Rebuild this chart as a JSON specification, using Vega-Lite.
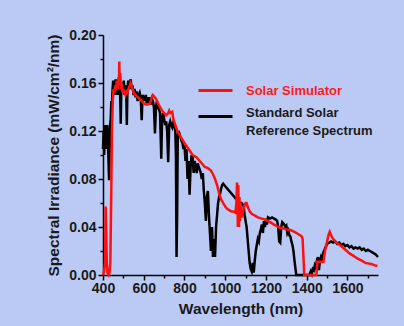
{
  "$schema": "https://vega.github.io/schema/vega-lite/v6.json",
  "width": 275,
  "height": 240,
  "autosize": {"type": "none"},
  "padding": {"left": 103, "top": 35, "right": 26, "bottom": 51},
  "background": "#BACAF5",
  "config": {
    "view": {"stroke": null, "fill": "#BACAF5"},
    "font": "Liberation Sans",
    "axis": {
      "labelFont": "Liberation Sans", "labelFontWeight": "bold", "labelFontSize": 14, "labelColor": "#1a1a1a",
      "titleFont": "Liberation Sans", "titleFontWeight": "bold", "titleFontSize": 15.5, "titleColor": "#1a1a1a",
      "domainColor": "#000000", "domainWidth": 1.5, "tickColor": "#000000", "tickWidth": 1.5, "grid": false
    }
  },
  "datasets": {
    "ref": [
      {"x":400,"y":0.105},{"x":403,"y":0.12},{"x":406,"y":0.10},{"x":409,"y":0.125},{"x":412,"y":0.11},{"x":415,"y":0.12},{"x":418,"y":0.105},{"x":421,"y":0.125},{"x":424,"y":0.115},{"x":427,"y":0.095},{"x":430,"y":0.079},{"x":432,"y":0.10},{"x":435,"y":0.125},{"x":438,"y":0.13},{"x":441,"y":0.145},{"x":444,"y":0.14},{"x":447,"y":0.155},{"x":450,"y":0.162},{"x":453,"y":0.15},{"x":456,"y":0.16},{"x":459,"y":0.155},{"x":462,"y":0.163},{"x":465,"y":0.15},{"x":468,"y":0.16},{"x":471,"y":0.155},{"x":474,"y":0.158},{"x":477,"y":0.15},{"x":480,"y":0.16},{"x":484,"y":0.152},{"x":487,"y":0.126},{"x":490,"y":0.155},{"x":494,"y":0.16},{"x":498,"y":0.155},{"x":502,"y":0.162},{"x":506,"y":0.15},{"x":510,"y":0.158},{"x":514,"y":0.155},{"x":517,"y":0.125},{"x":520,"y":0.155},{"x":524,"y":0.162},{"x":528,"y":0.155},{"x":532,"y":0.16},{"x":536,"y":0.163},{"x":540,"y":0.155},{"x":545,"y":0.158},{"x":550,"y":0.15},{"x":555,"y":0.155},{"x":560,"y":0.148},{"x":565,"y":0.153},{"x":570,"y":0.145},{"x":575,"y":0.15},{"x":580,"y":0.152},{"x":585,"y":0.148},{"x":590,"y":0.129},{"x":594,"y":0.15},{"x":600,"y":0.148},{"x":605,"y":0.145},{"x":610,"y":0.15},{"x":615,"y":0.143},{"x":620,"y":0.148},{"x":625,"y":0.145},{"x":630,"y":0.148},{"x":635,"y":0.142},{"x":640,"y":0.147},{"x":645,"y":0.145},{"x":650,"y":0.14},{"x":655,"y":0.118},{"x":660,"y":0.14},{"x":665,"y":0.145},{"x":670,"y":0.14},{"x":675,"y":0.138},{"x":680,"y":0.135},{"x":686,"y":0.097},{"x":690,"y":0.13},{"x":695,"y":0.135},{"x":700,"y":0.13},{"x":705,"y":0.125},{"x":710,"y":0.128},{"x":715,"y":0.12},{"x":720,"y":0.094},{"x":725,"y":0.125},{"x":730,"y":0.128},{"x":735,"y":0.125},{"x":740,"y":0.123},{"x":745,"y":0.127},{"x":750,"y":0.125},{"x":755,"y":0.12},{"x":758,"y":0.10},{"x":761,"y":0.015},{"x":764,"y":0.05},{"x":767,"y":0.115},{"x":770,"y":0.12},{"x":775,"y":0.118},{"x":780,"y":0.115},{"x":785,"y":0.112},{"x":790,"y":0.11},{"x":795,"y":0.105},{"x":800,"y":0.108},{"x":805,"y":0.095},{"x":810,"y":0.105},{"x":815,"y":0.08},{"x":820,"y":0.095},{"x":825,"y":0.067},{"x":830,"y":0.09},{"x":835,"y":0.1},{"x":840,"y":0.098},{"x":845,"y":0.085},{"x":850,"y":0.095},{"x":855,"y":0.09},{"x":860,"y":0.085},{"x":865,"y":0.093},{"x":870,"y":0.09},{"x":875,"y":0.088},{"x":880,"y":0.085},{"x":885,"y":0.08},{"x":890,"y":0.085},{"x":895,"y":0.07},{"x":900,"y":0.06},{"x":905,"y":0.045},{"x":910,"y":0.065},{"x":915,"y":0.07},{"x":920,"y":0.05},{"x":925,"y":0.035},{"x":930,"y":0.02},{"x":935,"y":0.04},{"x":940,"y":0.015},{"x":945,"y":0.03},{"x":950,"y":0.015},{"x":955,"y":0.04},{"x":960,"y":0.05},{"x":965,"y":0.06},{"x":970,"y":0.065},{"x":975,"y":0.068},{"x":980,"y":0.072},{"x":985,"y":0.075},{"x":990,"y":0.076},{"x":995,"y":0.075},{"x":1000,"y":0.074},{"x":1010,"y":0.072},{"x":1020,"y":0.07},{"x":1030,"y":0.068},{"x":1040,"y":0.066},{"x":1050,"y":0.064},{"x":1060,"y":0.062},{"x":1070,"y":0.06},{"x":1080,"y":0.06},{"x":1090,"y":0.058},{"x":1095,"y":0.05},{"x":1100,"y":0.045},{"x":1105,"y":0.04},{"x":1110,"y":0.03},{"x":1115,"y":0.02},{"x":1120,"y":0.01},{"x":1125,"y":0.005},{"x":1130,"y":0.003},{"x":1135,"y":0.01},{"x":1140,"y":0.002},{"x":1145,"y":0.012},{"x":1150,"y":0.02},{"x":1155,"y":0.025},{"x":1160,"y":0.03},{"x":1165,"y":0.028},{"x":1170,"y":0.035},{"x":1175,"y":0.038},{"x":1180,"y":0.042},{"x":1185,"y":0.035},{"x":1190,"y":0.045},{"x":1195,"y":0.04},{"x":1200,"y":0.047},{"x":1205,"y":0.042},{"x":1210,"y":0.048},{"x":1220,"y":0.047},{"x":1230,"y":0.048},{"x":1240,"y":0.047},{"x":1250,"y":0.046},{"x":1255,"y":0.045},{"x":1260,"y":0.04},{"x":1265,"y":0.028},{"x":1270,"y":0.027},{"x":1275,"y":0.04},{"x":1280,"y":0.044},{"x":1285,"y":0.043},{"x":1290,"y":0.042},{"x":1295,"y":0.04},{"x":1300,"y":0.041},{"x":1305,"y":0.035},{"x":1310,"y":0.037},{"x":1315,"y":0.033},{"x":1320,"y":0.032},{"x":1325,"y":0.028},{"x":1330,"y":0.025},{"x":1335,"y":0.02},{"x":1340,"y":0.012},{"x":1345,"y":0.005},{"x":1349,"y":0},{"x":1413,"y":0},{"x":1420,"y":0.003},{"x":1425,"y":0.001},{"x":1430,"y":0.005},{"x":1435,"y":0.004},{"x":1440,"y":0.008},{"x":1445,"y":0.006},{"x":1450,"y":0.012},{"x":1455,"y":0.015},{"x":1460,"y":0.004},{"x":1465,"y":0.012},{"x":1470,"y":0.015},{"x":1475,"y":0.013},{"x":1480,"y":0.018},{"x":1485,"y":0.02},{"x":1490,"y":0.022},{"x":1495,"y":0.024},{"x":1500,"y":0.026},{"x":1510,"y":0.027},{"x":1520,"y":0.028},{"x":1530,"y":0.027},{"x":1540,"y":0.028},{"x":1550,"y":0.026},{"x":1560,"y":0.027},{"x":1570,"y":0.025},{"x":1580,"y":0.026},{"x":1590,"y":0.024},{"x":1600,"y":0.025},{"x":1610,"y":0.023},{"x":1620,"y":0.024},{"x":1630,"y":0.022},{"x":1640,"y":0.023},{"x":1650,"y":0.022},{"x":1660,"y":0.023},{"x":1670,"y":0.021},{"x":1680,"y":0.022},{"x":1690,"y":0.02},{"x":1700,"y":0.021},{"x":1710,"y":0.02},{"x":1720,"y":0.019},{"x":1730,"y":0.018},{"x":1740,"y":0.017},{"x":1750,"y":0.015}
    ],
    "sim": [
      {"x":400,"y":0},{"x":405,"y":0.003},{"x":410,"y":0.01},{"x":413,"y":0.057},{"x":416,"y":0.035},{"x":419,"y":0.01},{"x":422,"y":0.002},{"x":428,"y":0},{"x":432,"y":0.002},{"x":436,"y":0.01},{"x":440,"y":0.06},{"x":444,"y":0.12},{"x":448,"y":0.145},{"x":452,"y":0.155},{"x":456,"y":0.152},{"x":460,"y":0.158},{"x":464,"y":0.154},{"x":468,"y":0.162},{"x":472,"y":0.155},{"x":476,"y":0.165},{"x":478,"y":0.158},{"x":480,"y":0.178},{"x":482,"y":0.16},{"x":485,"y":0.168},{"x":488,"y":0.155},{"x":492,"y":0.16},{"x":496,"y":0.152},{"x":500,"y":0.155},{"x":505,"y":0.152},{"x":510,"y":0.15},{"x":515,"y":0.153},{"x":520,"y":0.152},{"x":525,"y":0.155},{"x":530,"y":0.157},{"x":535,"y":0.16},{"x":540,"y":0.158},{"x":545,"y":0.155},{"x":550,"y":0.152},{"x":560,"y":0.15},{"x":570,"y":0.148},{"x":580,"y":0.147},{"x":590,"y":0.145},{"x":600,"y":0.143},{"x":610,"y":0.142},{"x":620,"y":0.142},{"x":630,"y":0.143},{"x":640,"y":0.148},{"x":645,"y":0.15},{"x":650,"y":0.149},{"x":660,"y":0.147},{"x":670,"y":0.143},{"x":680,"y":0.14},{"x":690,"y":0.137},{"x":700,"y":0.135},{"x":710,"y":0.133},{"x":720,"y":0.135},{"x":725,"y":0.137},{"x":730,"y":0.135},{"x":740,"y":0.136},{"x":745,"y":0.13},{"x":755,"y":0.125},{"x":765,"y":0.12},{"x":775,"y":0.117},{"x":785,"y":0.114},{"x":800,"y":0.11},{"x":820,"y":0.105},{"x":840,"y":0.1},{"x":860,"y":0.098},{"x":880,"y":0.094},{"x":900,"y":0.09},{"x":915,"y":0.089},{"x":930,"y":0.087},{"x":940,"y":0.084},{"x":950,"y":0.08},{"x":960,"y":0.075},{"x":970,"y":0.068},{"x":980,"y":0.063},{"x":990,"y":0.06},{"x":1000,"y":0.057},{"x":1010,"y":0.055},{"x":1020,"y":0.054},{"x":1030,"y":0.053},{"x":1040,"y":0.053},{"x":1050,"y":0.052},{"x":1055,"y":0.06},{"x":1058,"y":0.077},{"x":1060,"y":0.07},{"x":1062,"y":0.04},{"x":1064,"y":0.075},{"x":1066,"y":0.05},{"x":1068,"y":0.04},{"x":1070,"y":0.065},{"x":1072,"y":0.045},{"x":1075,"y":0.06},{"x":1078,"y":0.05},{"x":1082,"y":0.048},{"x":1086,"y":0.052},{"x":1090,"y":0.055},{"x":1095,"y":0.058},{"x":1100,"y":0.06},{"x":1105,"y":0.06},{"x":1110,"y":0.057},{"x":1120,"y":0.053},{"x":1130,"y":0.051},{"x":1140,"y":0.05},{"x":1150,"y":0.049},{"x":1160,"y":0.048},{"x":1180,"y":0.047},{"x":1200,"y":0.046},{"x":1220,"y":0.044},{"x":1240,"y":0.042},{"x":1260,"y":0.04},{"x":1280,"y":0.039},{"x":1300,"y":0.038},{"x":1320,"y":0.0375},{"x":1340,"y":0.036},{"x":1360,"y":0.034},{"x":1376,"y":0.032},{"x":1380,"y":0.03},{"x":1384,"y":0.015},{"x":1388,"y":0},{"x":1448,"y":0},{"x":1452,"y":0.011},{"x":1465,"y":0.011},{"x":1482,"y":0.011},{"x":1490,"y":0.02},{"x":1500,"y":0.028},{"x":1508,"y":0.034},{"x":1513,"y":0.036},{"x":1520,"y":0.033},{"x":1530,"y":0.03},{"x":1540,"y":0.028},{"x":1554,"y":0.026},{"x":1570,"y":0.024},{"x":1590,"y":0.021},{"x":1610,"y":0.018},{"x":1630,"y":0.016},{"x":1646,"y":0.014},{"x":1670,"y":0.012},{"x":1690,"y":0.01},{"x":1703,"y":0.0097},{"x":1720,"y":0.009},{"x":1735,"y":0.008},{"x":1747,"y":0.0075}
    ]
  },
  "encoding": {
    "x": {
      "field": "x", "type": "quantitative",
      "scale": {"domain": [400, 1750], "nice": false, "zero": false},
      "axis": {
        "title": "Wavelength (nm)",
        "values": [400,500,600,700,800,900,1000,1100,1200,1300,1400,1500,1600,1700],
        "labelExpr": "datum.value % 200 == 0 ? datum.label : ''",
        "format": "d",
        "tickSize": {"condition": {"test": "datum.value % 200 == 0", "value": 5}, "value": 3},
        "labelPadding": 1, "titlePadding": 6, "labelFlush": false
      }
    },
    "y": {
      "field": "y", "type": "quantitative",
      "scale": {"domain": [0, 0.2], "nice": false},
      "axis": {
        "title": "Spectral Irradiance (mW/cm²/nm)",
        "values": [0,0.02,0.04,0.06,0.08,0.1,0.12,0.14,0.16,0.18,0.2],
        "format": ".2f",
        "labelExpr": "round(datum.value*100) % 4 == 0 ? datum.label : ''",
        "tickSize": {"condition": {"test": "round(datum.value*100) % 4 == 0", "value": 5}, "value": 3},
        "labelPadding": 2, "titlePadding": 7, "labelFlush": false
      }
    },
    "color": {
      "field": "s", "type": "nominal",
      "scale": {"domain": ["sim", "ref"], "range": ["#ff1010", "#000000"]},
      "legend": {
        "title": null,
        "orient": "none",
        "legendX": 94,
        "legendY": 37,
        "symbolType": "stroke",
        "symbolSize": 1156,
        "symbolStrokeWidth": 3,
        "labelFont": "Liberation Sans",
        "labelFontWeight": "bold",
        "labelFontSize": 13,
        "labelOffset": 12,
        "rowPadding": -21,
        "padding": 0,
        "labelExpr": "datum.value == 'sim' ? 'Solar Simulator' : ['Standard Solar', 'Reference Spectrum']",
        "encode": {
          "labels": {"update": {
            "fill": {"signal": "datum.value == 'sim' ? '#ff1a1a' : '#1a1a1a'"},
            "dy": {"signal": "datum.value == 'sim' ? 0 : -4"},
            "lineHeight": {"value": 18}
          }}
        }
      }
    }
  },
  "layer": [
    {
      "data": {"name": "ref"},
      "transform": [{"calculate": "'ref'", "as": "s"}],
      "mark": {"type": "line", "strokeWidth": 2.5, "interpolate": "linear"}
    },
    {
      "data": {"name": "sim"},
      "transform": [{"calculate": "'sim'", "as": "s"}],
      "mark": {"type": "line", "strokeWidth": 2.5, "interpolate": "linear"}
    }
  ]
}
